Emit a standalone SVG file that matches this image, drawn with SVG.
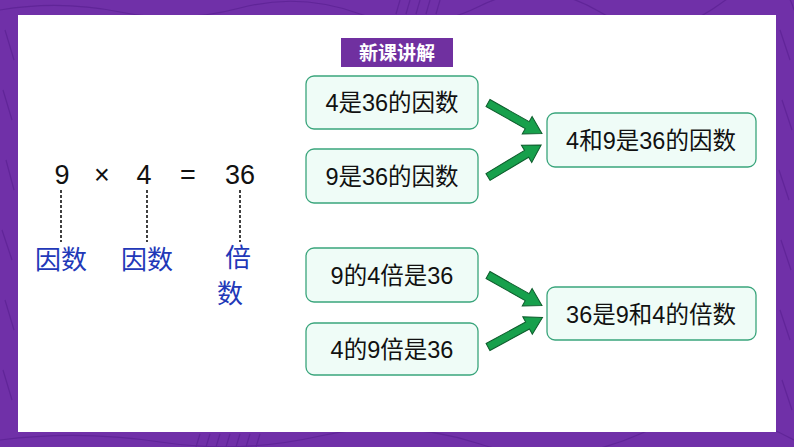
<svg xmlns="http://www.w3.org/2000/svg" width="794" height="447" viewBox="0 0 794 447">
<style>
.box{fill:#effcf7;stroke:#3aa57c;stroke-width:1.3}
.bt{font-family:"Liberation Sans","Noto Sans CJK SC",sans-serif;font-size:23.5px;fill:#111;text-anchor:middle}
.eq{font-family:"Liberation Sans","Noto Sans CJK SC",sans-serif;font-size:27px;fill:#111;text-anchor:middle}
.lab{font-family:"Noto Sans CJK SC",sans-serif;font-size:26px;fill:#2238b8;text-anchor:middle}
.dash{stroke:#111;stroke-width:1.6;stroke-dasharray:3 2;fill:none}
.arr{fill:#17a04c;stroke:#0d5c2c;stroke-width:1}
.pat{stroke:#5a2192;stroke-width:1.2;fill:none;opacity:0.7}
</style>
<defs>
<polygon id="arrow" points="0,-4 45,-4 45,-10 62,0 45,10 45,4 0,4"/>
</defs>
<g id="background">
<rect x="0" y="0" width="794" height="447" fill="#7030a8"/>
<g class="pat">
<path d="M0,10 Q60,0 120,12 T240,8 T360,14 T480,6 T600,12 T720,4 T794,10"/>
<path d="M0,440 Q80,430 160,442 T320,436 T480,444 T640,434 T794,440"/>
<path d="M5,30 L14,60 M3,90 L12,120 M6,160 L14,190 M2,230 L12,260 M5,300 L14,330 M3,370 L12,400"/>
<path d="M780,30 L790,60 M782,100 L792,130 M779,170 L789,200 M781,240 L791,270 M780,310 L790,340 M782,380 L792,410"/>
<path d="M200,434 L196,447 M210,434 L206,447 M220,434 L216,447 M230,434 L226,447 M240,434 L236,447 M250,434 L246,447 M260,434 L256,447"/>
<path d="M400,0 L396,14 M410,0 L406,14 M420,0 L416,14 M430,0 L426,14 M440,0 L436,14"/>
</g>
<rect x="18" y="15" width="758" height="417" fill="#ffffff"/>
</g>
<g id="header">
<rect x="341" y="38" width="112" height="29" fill="#7030a0"/>
<text x="397" y="60" font-family="Noto Sans CJK SC,sans-serif" font-size="19" font-weight="bold" fill="#ffffff" text-anchor="middle">新课讲解</text>
</g>
<g id="equation">
<text class="eq" x="62" y="184">9</text>
<text class="eq" x="102" y="184" font-size="21">×</text>
<text class="eq" x="144" y="184">4</text>
<text class="eq" x="188" y="184">=</text>
<text class="eq" x="240" y="184">36</text>
</g>
<g id="label-factor1"><text class="lab" x="61" y="269">因数</text></g>
<g id="label-factor2"><text class="lab" x="147" y="269">因数</text></g>
<g id="label-multiple"><text class="lab" x="238" y="267" font-size="25">倍</text><text class="lab" x="230" y="303" font-size="25">数</text></g>
<g id="n1"><rect class="box" x="306" y="76" width="172" height="53" rx="8"/><text class="bt" x="392" y="111">4是36的因数</text></g>
<g id="n2"><rect class="box" x="306" y="149" width="172" height="54" rx="8"/><text class="bt" x="392" y="185">9是36的因数</text></g>
<g id="n3"><rect class="box" x="547" y="113" width="209" height="54" rx="8"/><text class="bt" x="651" y="149">4和9是36的因数</text></g>
<g id="n4"><rect class="box" x="306" y="248" width="172" height="54" rx="8"/><text class="bt" x="392" y="284">9的4倍是36</text></g>
<g id="n5"><rect class="box" x="306" y="323" width="172" height="52" rx="8"/><text class="bt" x="392" y="358">4的9倍是36</text></g>
<g id="n6"><rect class="box" x="547" y="287" width="209" height="53" rx="8"/><text class="bt" x="651" y="323">36是9和4的倍数</text></g>
<g id="connectors">
<line class="dash" x1="61" y1="190" x2="61" y2="242"/>
<line class="dash" x1="147" y1="190" x2="147" y2="242"/>
<line class="dash" x1="240" y1="190" x2="240" y2="242"/>
<use href="#arrow" class="arr" transform="translate(488,103) rotate(29.5)"/>
<use href="#arrow" class="arr" transform="translate(488,177) rotate(-31)"/>
<use href="#arrow" class="arr" transform="translate(488,275) rotate(29.5)"/>
<use href="#arrow" class="arr" transform="translate(488,347) rotate(-28.5)"/>
</g>
</svg>
